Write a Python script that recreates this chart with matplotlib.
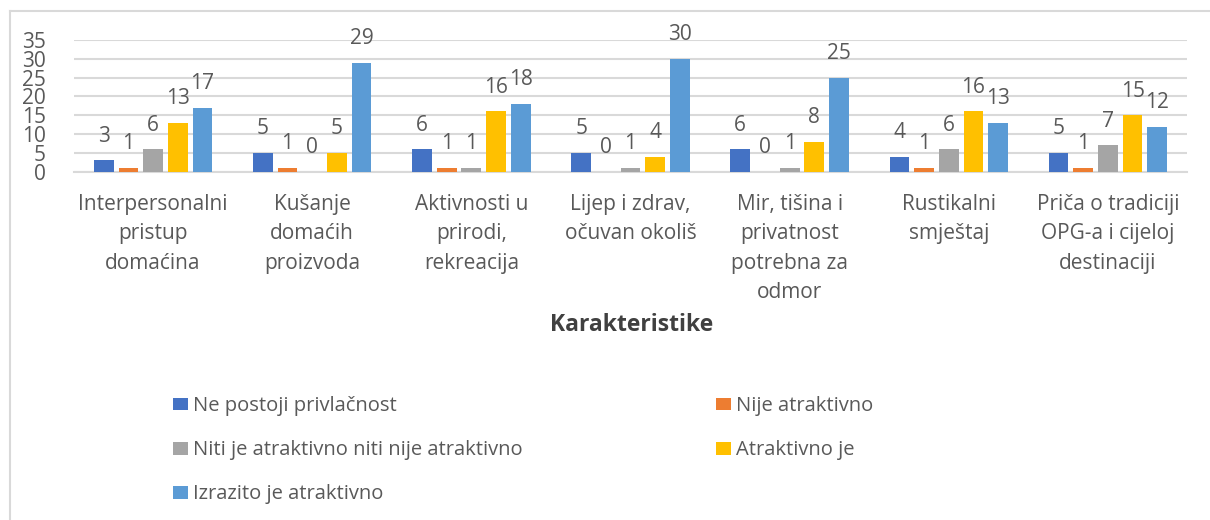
import matplotlib
matplotlib.use("Agg")
import matplotlib.pyplot as plt
import numpy as np
from matplotlib.patches import Patch
from matplotlib.lines import Line2D

categories = ["Interpersonalni\npristup\ndomaćina",
              "Kušanje\ndomaćih\nproizvoda",
              "Aktivnosti u\nprirodi,\nrekreacija",
              "Lijep i zdrav,\nočuvan okoliš",
              "Mir, tišina i\nprivatnost\npotrebna za\nodmor",
              "Rustikalni\nsmještaj",
              "Priča o tradiciji\nOPG-a i cijeloj\ndestinaciji"]
series_names = ["Ne postoji privlačnost", "Nije atraktivno",
                "Niti je atraktivno niti nije atraktivno", "Atraktivno je",
                "Izrazito je atraktivno"]
ne_postoji = [3, 5, 6, 5, 6, 4, 5]
nije = [1, 1, 1, 0, 0, 1, 1]
niti = [6, 0, 1, 1, 1, 6, 7]
atraktivno = [13, 5, 16, 4, 8, 16, 15]
izrazito = [17, 29, 18, 30, 25, 13, 12]
yticks = [0, 5, 10, 15, 20, 25, 30, 35]

series = [ne_postoji, nije, niti, atraktivno, izrazito]
colors = ["#4472C4", "#ED7D31", "#A5A5A5", "#FFC000", "#5B9BD5"]
txt = "#595959"
FONT = "Open Sans"

W, H = 1210, 520
fig = plt.figure(figsize=(W / 100, H / 100), dpi=100)
ax = fig.add_axes([73.5 / W, (H - 171.7) / H, (1187.5 - 73.5) / W, (171.7 - 40) / H])

x = np.arange(len(categories))
step = 0.155
bw = 0.124
for i, (vals, c) in enumerate(zip(series, colors)):
    pos = x + (i - 2) * step
    ax.bar(pos, vals, width=bw, color=c, zorder=3, label=series_names[i])
    for p, v in zip(pos, vals):
        ax.annotate(str(v), (p, v), xytext=(0, 24), textcoords="offset pixels",
                    ha="center", va="center", fontsize=15, color=txt,
                    family=FONT, zorder=4)

ax.set_xlim(-0.5, len(categories) - 0.5)
ax.set_ylim(0, 35)
ax.set_yticks(yticks)
ax.set_yticklabels([str(t) for t in yticks], fontsize=15, color=txt, family=FONT)
ax.yaxis.grid(True, color="#D9D9D9", linewidth=1.5, zorder=0)
ax.set_xticks(x)
ax.set_xticklabels(categories, fontsize=15, color=txt, family=FONT,
                   linespacing=1.52, va="top")
ax.tick_params(axis="y", length=0, pad=20)
ax.tick_params(axis="x", length=0, pad=16)
for s in ["top", "right", "left"]:
    ax.spines[s].set_visible(False)
ax.spines["bottom"].set_color("#D9D9D9")
ax.spines["bottom"].set_linewidth(1.5)

fig.text(632 / W, 1 - 325 / H, "Karakteristike", ha="center", va="center",
         fontsize=16.5, fontweight="bold", color="#404040", family=FONT)

order = [0, 2, 4, 1, 3]
leg_h = [Patch(facecolor=colors[i], edgecolor="none") for i in order]
leg_l = [series_names[i] for i in order]
leg = fig.legend(leg_h, leg_l, ncol=2, loc="upper left",
                 bbox_to_anchor=(155 / W, 1 - 378 / H),
                 frameon=False, handlelength=0.75, handleheight=0.6,
                 handletextpad=0.25, columnspacing=9.6, labelspacing=1.2,
                 prop={"family": FONT, "size": 14.5})
for t in leg.get_texts():
    t.set_color(txt)

# chart frame border (left and top)
fig.add_artist(Line2D([10 / W, 10 / W], [0, 1 - 11 / H], transform=fig.transFigure,
                      color="#D9D9D9", linewidth=1.5))
fig.add_artist(Line2D([10 / W, 1], [1 - 11 / H, 1 - 11 / H], transform=fig.transFigure,
                      color="#D9D9D9", linewidth=1.5))

fig.savefig("out.png", dpi=100, facecolor="white")
